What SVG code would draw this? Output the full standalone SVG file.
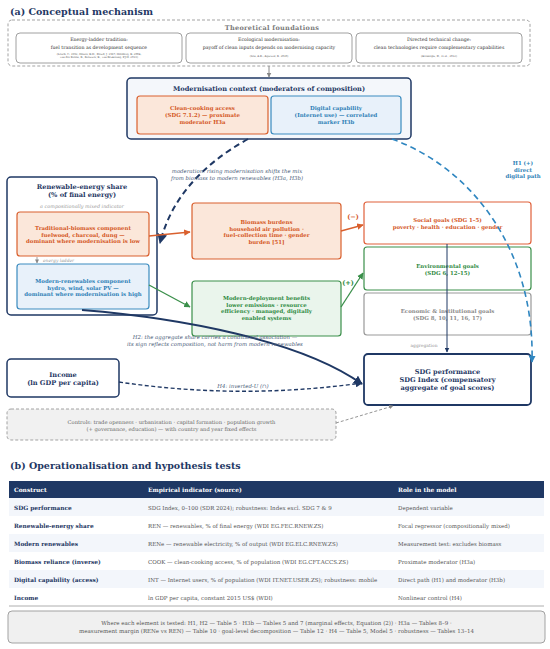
<svg xmlns="http://www.w3.org/2000/svg" width="550" height="649" viewBox="0 0 550 649">
<style>
text{font-family:"DejaVu Serif","Liberation Serif",serif}
.h{font-size:9.5px;font-weight:bold;fill:#1f3864}
.tf{font-size:6.5px;font-weight:bold;fill:#7a7a7a;text-anchor:middle;letter-spacing:0.3px}
.th{font-size:4.7px;fill:#333;text-anchor:middle}
.tc{font-size:2.6px;fill:#555;text-anchor:middle}
.t6{font-size:6.6px;font-weight:bold;fill:#1f3864;text-anchor:middle}
.nb{font-size:5.4px;font-weight:bold;text-anchor:middle}
.or{fill:#d4571f}
.bl{fill:#2e7fb6}
.gr{fill:#2f8a42}
.gy{fill:#8a8a8a}
.it{font-size:5.4px;font-style:italic;fill:#4b5d7a;text-anchor:middle}
.sm{font-size:4.4px;font-style:italic;fill:#999}
.box{stroke-width:1.2}
.fo{fill:#fbe7da;stroke:#d9602e}
.fb{fill:#e8f1fa;stroke:#3a8bbf}
.fg{fill:#eaf5ec;stroke:#3a8f4a}
.tth{font-size:5.9px;font-weight:bold;fill:#fff}
.tc1{font-size:5.8px;font-weight:bold;fill:#1f3864}
.tc2{font-size:5.5px;fill:#555}
.ft{font-size:5.5px;fill:#555;text-anchor:middle}
</style>
<defs>
<marker id="mN" viewBox="0 0 10 10" refX="9" refY="5" markerWidth="5" markerHeight="5" orient="auto"><path d="M0,0L10,5L0,10z" fill="#1f3864"/></marker>
<marker id="mO" viewBox="0 0 10 10" refX="9" refY="5" markerWidth="5" markerHeight="5" orient="auto"><path d="M0,0L10,5L0,10z" fill="#d9602e"/></marker>
<marker id="mG" viewBox="0 0 10 10" refX="9" refY="5" markerWidth="5" markerHeight="5" orient="auto"><path d="M0,0L10,5L0,10z" fill="#3a8f4a"/></marker>
<marker id="mB" viewBox="0 0 10 10" refX="9" refY="5" markerWidth="4.5" markerHeight="4.5" orient="auto"><path d="M0,0L10,5L0,10z" fill="#2f86c0"/></marker>
<marker id="mY" viewBox="0 0 10 10" refX="9" refY="5" markerWidth="5" markerHeight="5" orient="auto"><path d="M0,0L10,5L0,10z" fill="#888"/></marker>
</defs>

<text class="h" x="10" y="15">(a)  Conceptual mechanism</text>

<g id="theory">
<rect x="8" y="20" width="522" height="46" rx="4" fill="#fff" stroke="#999" stroke-width="0.9" stroke-dasharray="3,2"/>
<text class="tf" x="272" y="30">Theoretical foundations</text>
<g id="theory-ladder">
<rect x="16" y="33" width="166" height="30" rx="4" fill="#fff" stroke="#888" stroke-width="0.8"/>
<text class="th" x="99" y="41">Energy-ladder tradition:</text>
<text class="th" x="99" y="48.5">fuel transition as development sequence</text>
<text class="tc" x="99" y="54.5">(Leach, G. 1992; Hosier, R.H., Dowd, J. 1987; Heltberg, R. 2004;</text>
<text class="tc" x="99" y="58">van der Kroon, B., Brouwer, R., van Beukering, P.J.H. 2013)</text>
</g>
<g id="theory-ecomod">
<rect x="186" y="33" width="166" height="30" rx="4" fill="#fff" stroke="#888" stroke-width="0.8"/>
<text class="th" x="269" y="41">Ecological modernisation:</text>
<text class="th" x="269" y="48.5">payoff of clean inputs depends on modernising capacity</text>
<text class="tc" x="269" y="57">(Sen, A.K.; Agarwal, B. 2010)</text>
</g>
<g id="theory-dtc">
<rect x="356" y="33" width="166" height="30" rx="4" fill="#fff" stroke="#888" stroke-width="0.8"/>
<text class="th" x="439" y="41">Directed technical change:</text>
<text class="th" x="439" y="48.5">clean technologies require complementary capabilities</text>
<text class="tc" x="439" y="57">(Acemoglu, D., et al., 2012)</text>
</g>
</g>

<g id="modernisation">
<rect x="127" y="78" width="284" height="61" rx="4" fill="#f4f7fb" stroke="#1f3864" stroke-width="1.5"/>
<text class="t6" x="269" y="91">Modernisation context  (moderators of composition)</text>
<g id="cooking">
<rect class="box fo" x="137" y="96" width="131" height="38" rx="3"/>
<text class="nb or" x="202.5" y="110">Clean-cooking access</text>
<text class="nb or" x="202.5" y="117">(SDG 7.1.2) — proximate</text>
<text class="nb or" x="202.5" y="124">moderator   H3a</text>
</g>
<g id="digital">
<rect class="box fb" x="271" y="96" width="130" height="38" rx="3"/>
<text class="nb bl" x="336" y="110">Digital capability</text>
<text class="nb bl" x="336" y="117">(Internet use) — correlated</text>
<text class="nb bl" x="336" y="124">marker   H3b</text>
</g>
</g>

<g id="renewable">
<rect x="7" y="177" width="150" height="138" rx="4" fill="#fff" stroke="#1f3864" stroke-width="1.5"/>
<text class="t6" x="82" y="189">Renewable-energy share</text>
<text class="t6" x="82" y="196.5">(% of final energy)</text>
<text class="sm" x="82" y="208" text-anchor="middle" style="font-size:4.9px">a compositionally mixed indicator</text>
<g id="traditional">
<rect class="box fo" x="17" y="212" width="132" height="44" rx="3"/>
<text class="nb or" x="83" y="230">Traditional-biomass component</text>
<text class="nb or" x="83" y="236.5">fuelwood, charcoal, dung —</text>
<text class="nb or" x="83" y="243">dominant where modernisation is low</text>
</g>
<g id="modern">
<rect class="box fb" x="17" y="264" width="132" height="45" rx="3"/>
<text class="nb bl" x="83" y="283">Modern-renewables component</text>
<text class="nb bl" x="83" y="289.5">hydro, wind, solar PV —</text>
<text class="nb bl" x="83" y="296">dominant where modernisation is high</text>
</g>
</g>

<g id="biomass">
<rect class="box fo" x="192" y="203" width="149" height="56" rx="3"/>
<text class="nb or" x="266.5" y="224">Biomass burdens</text>
<text class="nb or" x="266.5" y="230.5">household air pollution ·</text>
<text class="nb or" x="266.5" y="237">fuel-collection time · gender</text>
<text class="nb or" x="266.5" y="243.5">burden  [51]</text>
</g>

<g id="deployment">
<rect class="box fg" x="192" y="281" width="149" height="55" rx="3"/>
<text class="nb gr" x="266.5" y="300">Modern-deployment benefits</text>
<text class="nb gr" x="266.5" y="306.5">lower emissions · resource</text>
<text class="nb gr" x="266.5" y="313">efficiency · managed, digitally</text>
<text class="nb gr" x="266.5" y="319.5">enabled systems</text>
</g>

<g id="social">
<rect class="box" x="364" y="202" width="167" height="42" rx="3" fill="#fff" stroke="#e0603a"/>
<text class="nb or" x="447.5" y="222">Social goals (SDG 1–5)</text>
<text class="nb or" x="447.5" y="228.5">poverty · health · education · gender</text>
</g>
<g id="environmental">
<rect class="box" x="364" y="247" width="167" height="43" rx="3" fill="#fff" stroke="#3a8f4a"/>
<text class="nb gr" x="447.5" y="268">Environmental goals</text>
<text class="nb gr" x="447.5" y="274.5">(SDG 6, 12–15)</text>
</g>
<g id="economic">
<rect class="box" x="364" y="293" width="167" height="42" rx="3" fill="#fff" stroke="#999"/>
<text class="nb gy" x="447.5" y="313">Economic &amp; institutional goals</text>
<text class="nb gy" x="447.5" y="319.5">(SDG 8, 10, 11, 16, 17)</text>
</g>

<g id="sdg">
<rect x="364" y="354" width="167" height="51" rx="4" fill="#fff" stroke="#1f3864" stroke-width="1.8"/>
<text class="t6" x="447.5" y="374">SDG performance</text>
<text class="t6" x="447.5" y="382">SDG Index (compensatory</text>
<text class="t6" x="447.5" y="390">aggregate of goal scores)</text>
</g>

<g id="income">
<rect x="7" y="359" width="112" height="38" rx="4" fill="#fff" stroke="#1f3864" stroke-width="1.5"/>
<text class="t6" x="63" y="377">Income</text>
<text class="t6" x="63" y="384.5">(ln GDP per capita)</text>
</g>

<g id="controls">
<rect x="7" y="409" width="329" height="31" rx="4" fill="#f1f1f1" stroke="#999" stroke-width="0.9" stroke-dasharray="3,2"/>
<text class="ft" x="171.5" y="424" style="fill:#666;font-size:5.2px">Controls: trade openness · urbanisation · capital formation · population growth</text>
<text class="ft" x="171.5" y="430.5" style="fill:#666;font-size:5.2px">(+ governance, education) — with country and year fixed effects</text>
</g>

<g id="connectors" fill="none">
<line x1="269" y1="66" x2="269" y2="77" stroke="#888" stroke-width="1" marker-end="url(#mY)"/>
<path d="M248,139 Q176,179 160,243" stroke="#1f3864" stroke-width="2" stroke-dasharray="6,4" marker-end="url(#mN)"/>
<path d="M392,139 C472,168 535,250 532,362" stroke="#2f86c0" stroke-width="1.6" stroke-dasharray="6,4" marker-end="url(#mB)"/>
<line x1="149" y1="236" x2="190" y2="232" stroke="#d9602e" stroke-width="1.3" marker-end="url(#mO)"/>
<line x1="149" y1="285" x2="190" y2="307" stroke="#3a8f4a" stroke-width="1.3" marker-end="url(#mG)"/>
<line x1="341" y1="231" x2="363" y2="225" stroke="#d9602e" stroke-width="1.3" marker-end="url(#mO)"/>
<line x1="341" y1="307" x2="363" y2="273" stroke="#3a8f4a" stroke-width="1.3" marker-end="url(#mG)"/>
<path d="M82,310 C180,318 300,340 362,384" stroke="#1f3864" stroke-width="1.8" marker-end="url(#mN)"/>
<line x1="447" y1="244" x2="447" y2="352" stroke="#1f3864" stroke-width="1" marker-end="url(#mN)"/>
<path d="M119,382 Q240,400 362,383" stroke="#1f3864" stroke-width="1.4" stroke-dasharray="4,2.5" marker-end="url(#mN)"/>
<line x1="336" y1="423" x2="393" y2="406" stroke="#888" stroke-width="0.9" stroke-dasharray="3,2" marker-end="url(#mY)"/>
<line x1="37" y1="257" x2="37" y2="263" stroke="#888" stroke-width="0.8" marker-end="url(#mY)"/>
</g>

<g id="labels">
<text class="sm" x="43" y="262">energy ladder</text>
<text class="it" x="237" y="173">moderation: rising modernisation shifts the mix</text>
<text class="it" x="237" y="180">from biomass to modern renewables (H3a, H3b)</text>
<text class="nb bl" x="523" y="165">H1 (+)</text>
<text class="nb bl" x="523" y="171.5">direct</text>
<text class="nb bl" x="523" y="178">digital path</text>
<text class="nb or" x="353" y="219" style="font-size:6.5px">(−)</text>
<text class="nb gr" x="348" y="285" style="font-size:6.5px">(+)</text>
<text class="it" x="215" y="339">H2: the aggregate share carries a conditional association —</text>
<text class="it" x="215" y="345.5">its sign reflects composition, not harm from modern renewables</text>
<text class="sm" x="424" y="347" text-anchor="middle" style="font-style:normal">aggregation</text>
<text class="it" x="243" y="388">H4: inverted-U (∩)</text>
</g>

<text class="h" x="10" y="469">(b)  Operationalisation and hypothesis tests</text>

<g id="table">
<rect x="9" y="481" width="535" height="17" fill="#1f3864"/>
<text class="tth" x="14" y="492">Construct</text>
<text class="tth" x="148" y="492">Empirical indicator (source)</text>
<text class="tth" x="398" y="492">Role in the model</text>
<rect x="9" y="498" width="535" height="18" fill="#f3f6fb"/>
<rect x="9" y="534" width="535" height="18" fill="#f3f6fb"/>
<rect x="9" y="570" width="535" height="18" fill="#f3f6fb"/>
<line x1="9" y1="606" x2="544" y2="606" stroke="#999" stroke-width="0.8"/>
<text class="tc1" x="14" y="509.5">SDG performance</text>
<text class="tc2" x="148" y="509.5">SDG Index, 0–100 (SDR 2024); robustness: Index excl. SDG 7 &amp; 9</text>
<text class="tc2" x="398" y="509.5">Dependent variable</text>
<text class="tc1" x="14" y="527.5">Renewable-energy share</text>
<text class="tc2" x="148" y="527.5">REN — renewables, % of final energy (WDI EG.FEC.RNEW.ZS)</text>
<text class="tc2" x="398" y="527.5">Focal regressor (compositionally mixed)</text>
<text class="tc1" x="14" y="545.5">Modern renewables</text>
<text class="tc2" x="148" y="545.5">RENe — renewable electricity, % of output (WDI EG.ELC.RNEW.ZS)</text>
<text class="tc2" x="398" y="545.5">Measurement test: excludes biomass</text>
<text class="tc1" x="14" y="563.5">Biomass reliance (inverse)</text>
<text class="tc2" x="148" y="563.5">COOK — clean-cooking access, % of population (WDI EG.CFT.ACCS.ZS)</text>
<text class="tc2" x="398" y="563.5">Proximate moderator (H3a)</text>
<text class="tc1" x="14" y="581.5">Digital capability (access)</text>
<text class="tc2" x="148" y="581.5">INT — Internet users, % of population (WDI IT.NET.USER.ZS); robustness: mobile</text>
<text class="tc2" x="398" y="581.5">Direct path (H1) and moderator (H3b)</text>
<text class="tc1" x="14" y="599.5">Income</text>
<text class="tc2" x="148" y="599.5">ln GDP per capita, constant 2015 US$ (WDI)</text>
<text class="tc2" x="398" y="599.5">Nonlinear control (H4)</text>
</g>

<g id="tests">
<rect x="8" y="611" width="537" height="32" rx="4" fill="#f0f0f0" stroke="#999" stroke-width="0.9"/>
<text class="ft" x="276.5" y="625">Where each element is tested:  H1, H2 — Table 5 · H3b — Tables 5 and 7 (marginal effects, Equation (2)) · H3a — Tables 8–9 ·</text>
<text class="ft" x="276.5" y="632.5">measurement margin (RENe vs REN) — Table 10 · goal-level decomposition — Table 12 · H4 — Table 5, Model 5 · robustness — Tables 13–14</text>
</g>
</svg>
